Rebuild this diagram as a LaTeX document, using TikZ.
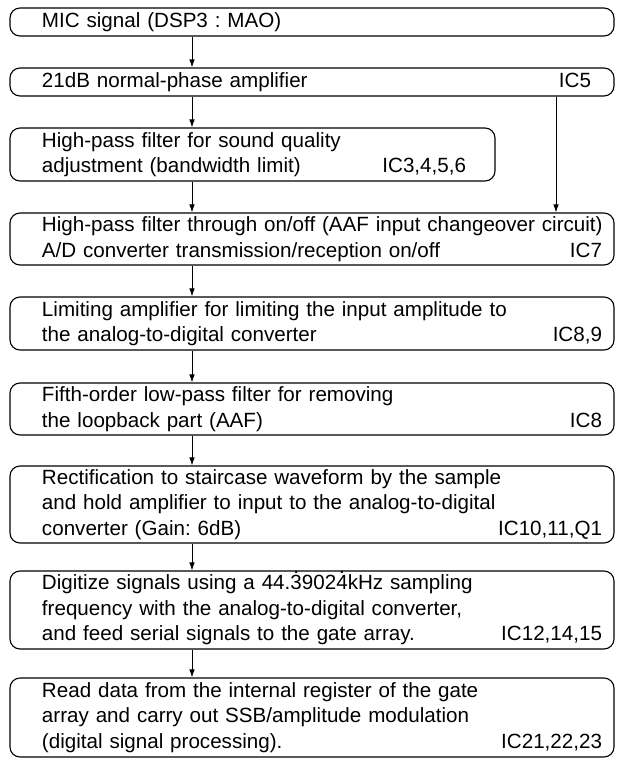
\documentclass[tikz,border=0pt]{standalone}
\usepackage{fontspec}
\setmainfont{Liberation Sans}
\usetikzlibrary{arrows.meta,calc,positioning}
\newcommand{\icref}[1]{\hskip 0pt plus 1filll #1}
\newcommand{\repdot}[1]{\ooalign{#1\cr\hidewidth\raisebox{.78em}{.}\hidewidth\cr}}

\begin{document}
\begin{tikzpicture}[x=1pt,y=-1pt,
              box/.style={draw,rounded corners=10pt,line width=1.1pt,align=left,
                  inner xsep=12pt,inner ysep=1pt,text width=#1,
                  font=\fontsize{20.6pt}{25.5pt}\selectfont\frenchspacing,
                  execute at begin node={\leftskip=20pt}},
              box/.default=580pt,
              flow/.style={-{Latex[length=8pt,width=5.5pt]},line width=0.8pt}
            ]
            \useasboundingbox (0,0) rectangle (622,761);
            \coordinate (spine) at (192,0);
            \coordinate (bypass) at (556,0);
            \node[box,minimum height=28pt] (mic) at (312,22) {
              MIC signal (DSP3 : MAO)
            };
            \node[box,minimum height=28pt] (amp) at (312,82) {
              21dB normal-phase amplifier\icref{IC5\hspace*{11pt}}
            };
            \node[box=461pt,minimum height=53pt] (hpf) at (252.5,154.5) {
              High-pass filter for sound quality\\
              adjustment (bandwidth limit)\icref{IC3,4,5,6\hspace*{17pt}}
            };
            \node[box,minimum height=52pt] (thru) at (312,239) {
              \mbox{High-pass filter through on/off (AAF input changeover circuit)}\\
              A/D converter transmission/reception on/off\icref{IC7}
            };
            \node[box,minimum height=53pt] (lim) at (312,323.5) {
              Limiting amplifier for limiting the input amplitude to\\
              the analog-to-digital converter\icref{IC8,9}
            };
            \node[box,minimum height=52pt] (lpf) at (312,409) {
              Fifth-order low-pass filter for removing\\
              the loopback part (AAF)\icref{IC8}
            };
            \node[box,minimum height=77pt] (sh) at (312,504.5) {
              Rectification to staircase waveform by the sample\\
              and hold amplifier to input to the analog-to-digital\\
              converter (Gain: 6dB)\icref{IC10,11,Q1}
            };
            \node[box,minimum height=78pt] (adc) at (312,610) {
              Digitize signals using a 44.\repdot{3}902\repdot{4}kHz sampling\\
              frequency with the analog-to-digital converter,\\
              and feed serial signals to the gate array.\icref{IC12,14,15}
            };
            \node[box,minimum height=79pt] (dsp) at (312,717.5) {
              Read data from the internal register of the gate\\
              array and carry out SSB/amplitude modulation\\
              (digital signal processing).\icref{IC21,22,23}
            };
            \draw[flow] (mic.south -| spine) -- (amp.north -| spine);
            \draw[flow] (amp.south -| spine) -- (hpf.north -| spine);
            \draw[flow] (hpf.south -| spine) -- (thru.north -| spine);
            \draw[flow] (amp.south -| bypass) -- (thru.north -| bypass);
            \draw[flow] (thru.south -| spine) -- (lim.north -| spine);
            \draw[flow] (lim.south -| spine) -- (lpf.north -| spine);
            \draw[flow] (lpf.south -| spine) -- (sh.north -| spine);
            \draw[flow] (sh.south -| spine) -- (adc.north -| spine);
            \draw[flow] (adc.south -| spine) -- (dsp.north -| spine);
          \end{tikzpicture}
\end{document}
